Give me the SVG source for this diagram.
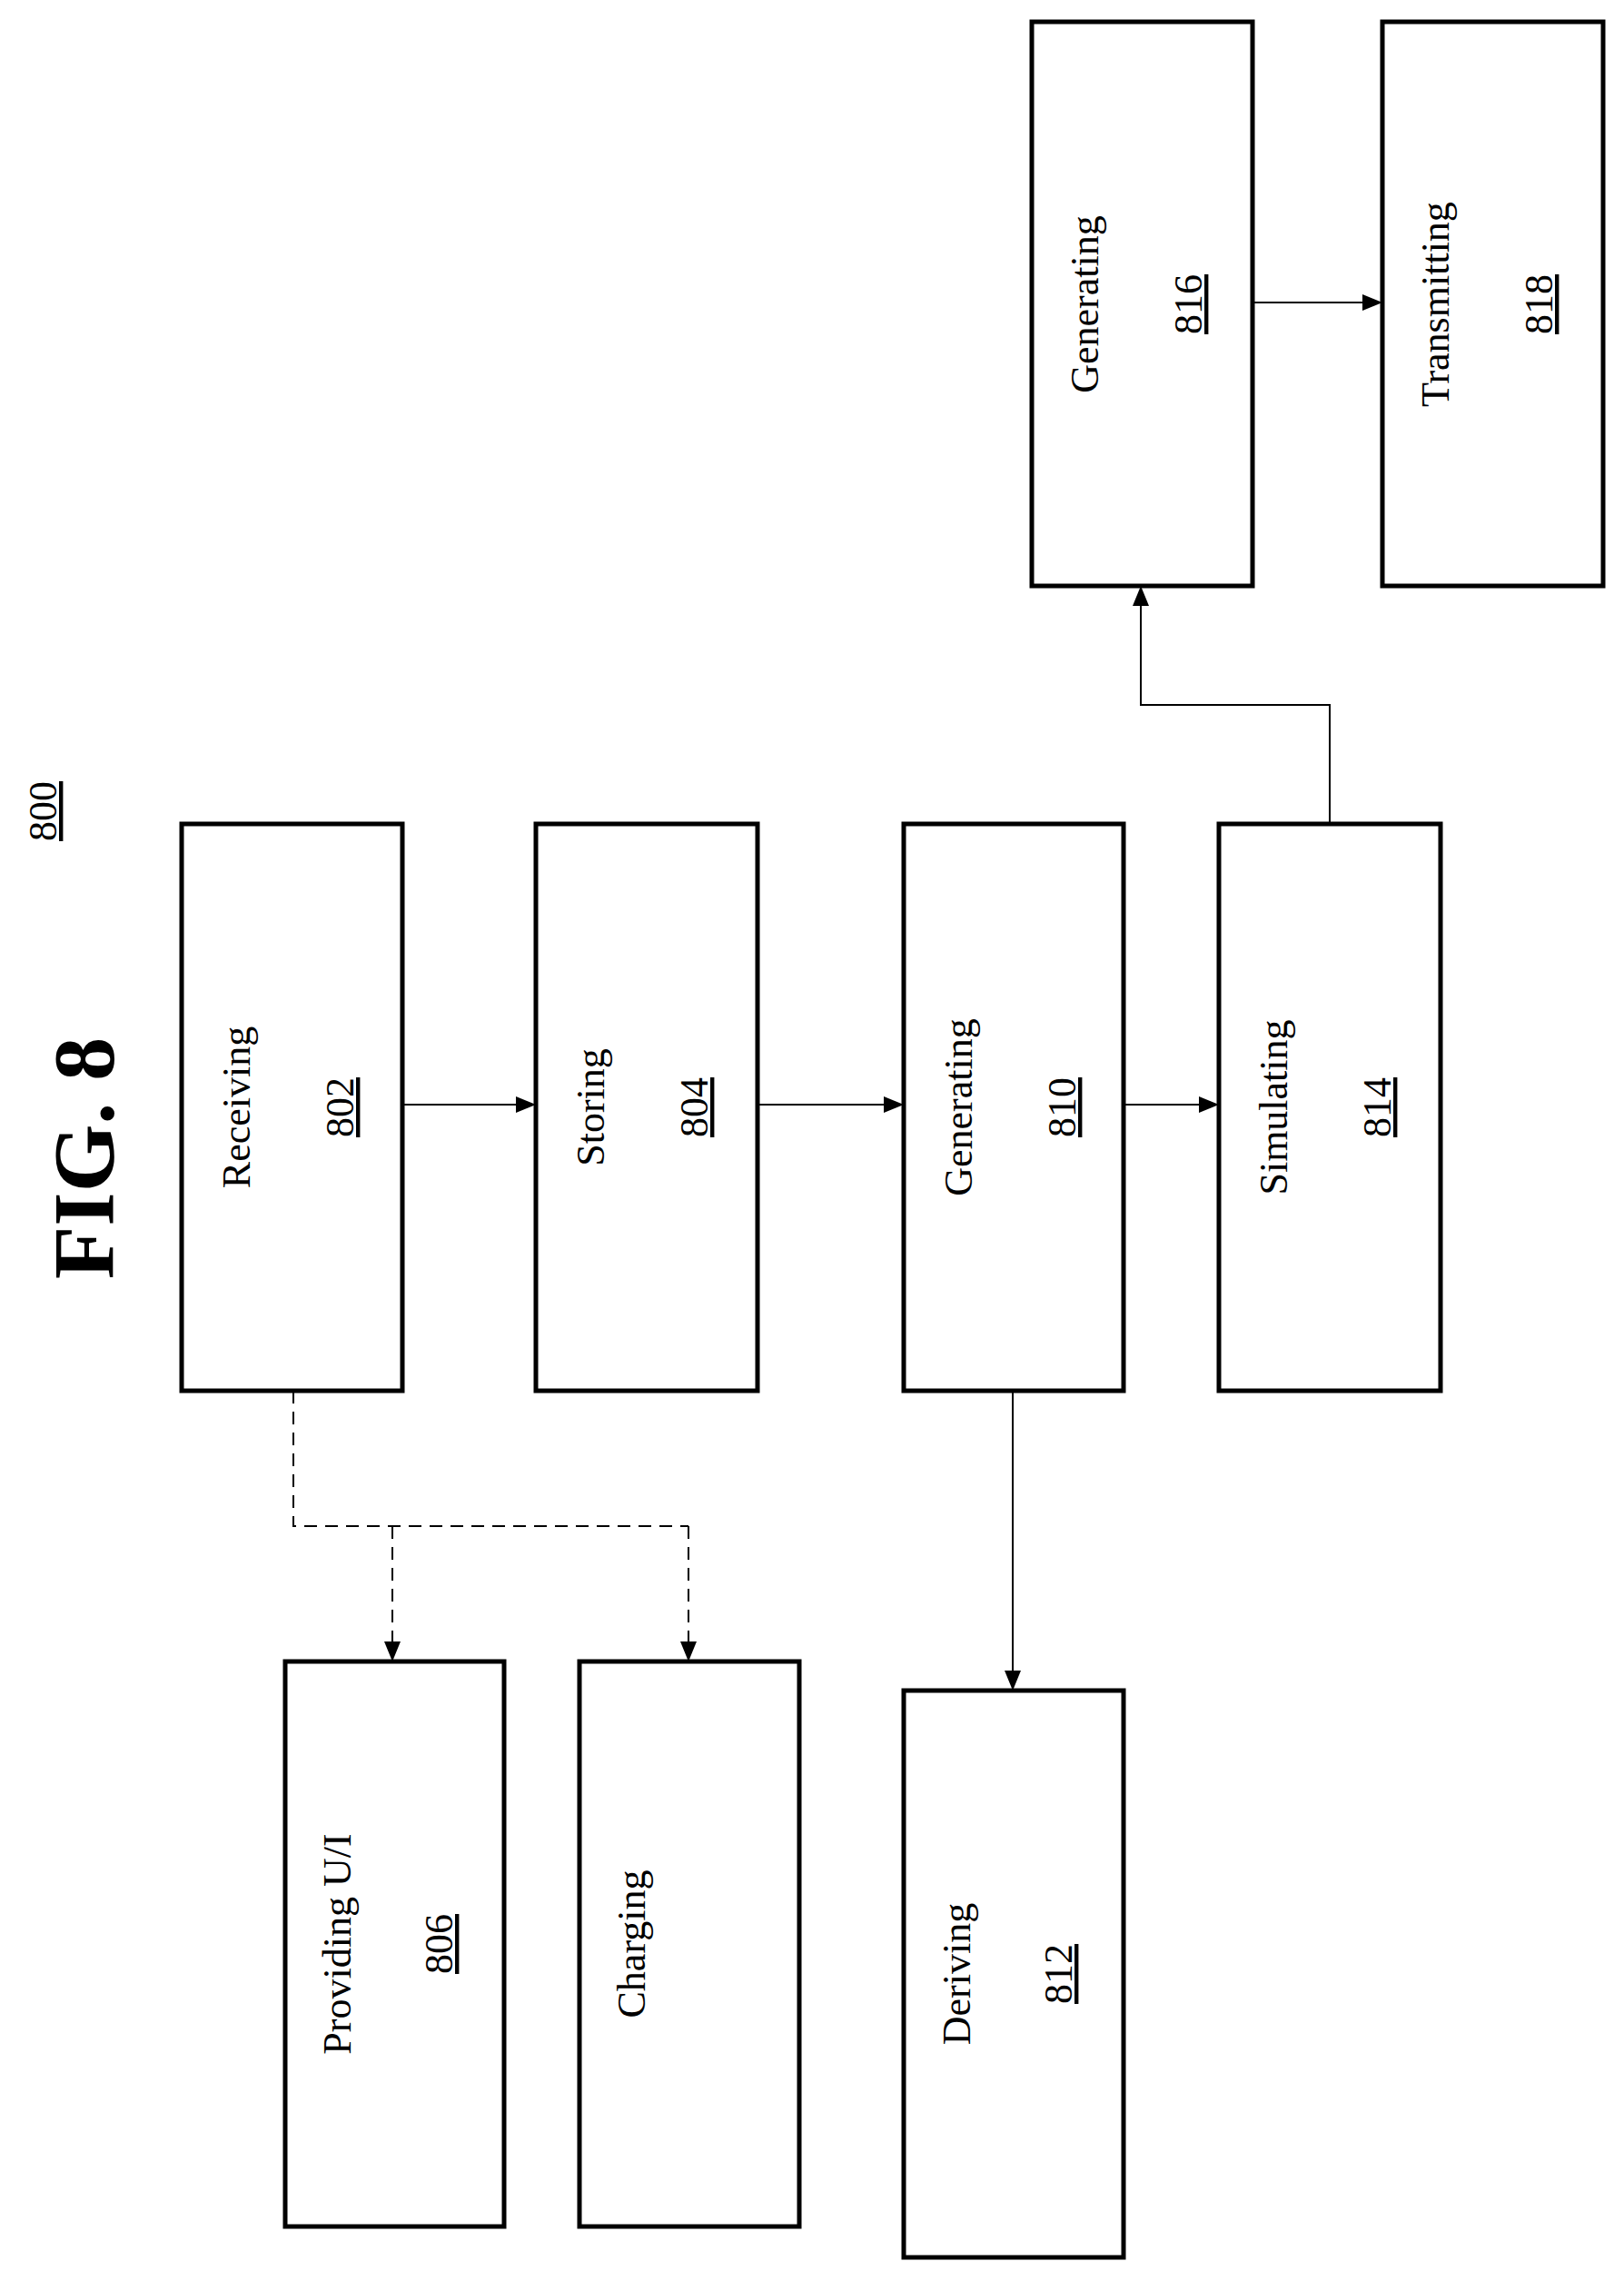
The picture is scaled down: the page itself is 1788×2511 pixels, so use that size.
<svg xmlns="http://www.w3.org/2000/svg" width="1788" height="2511" viewBox="0 0 1788 2511">
<style>
.box{fill:#fff;stroke:#000;stroke-width:5}
.t{font-family:"Liberation Serif",serif;font-size:44px;text-anchor:middle;fill:#000}
.n{text-decoration:underline}
.c{fill:none;stroke:#000;stroke-width:2}
.d{stroke-dasharray:14 9}
</style>
<defs><marker id="a" markerWidth="12" markerHeight="10" refX="12" refY="5" orient="auto" markerUnits="userSpaceOnUse" viewBox="0 0 12 10"><path d="M0 0L12 5L0 10z" fill="#000"/></marker>
<marker id="b" markerWidth="22" markerHeight="18" refX="22" refY="9" orient="auto" markerUnits="userSpaceOnUse"><path d="M0 0L22 9L0 18z" fill="#000"/></marker></defs>
<text x="125" y="1275" transform="rotate(-90 125 1275)" class="t" style="font-size:96px;font-weight:bold">FIG. 8</text>
<text x="62" y="893" transform="rotate(-90 62 893)" class="t n">800</text>
<g id="connectors">
<path class="c" d="M443 1216H590" marker-end="url(#b)"/>
<path class="c" d="M834 1216H995" marker-end="url(#b)"/>
<path class="c" d="M1237 1216H1342" marker-end="url(#b)"/>
<path class="c" d="M1464 907V776H1256V645" marker-end="url(#b)"/>
<path class="c" d="M1379 333H1522" marker-end="url(#b)"/>
<path class="c" d="M1115 1531V1861" marker-end="url(#b)"/>
<path class="c d" d="M323 1531V1680H758"/>
<path class="c d" d="M432 1680V1829" marker-end="url(#b)"/>
<path class="c d" d="M758 1680V1829" marker-end="url(#b)"/>
</g>
<g id="n802"><rect class="box" x="200" y="907" width="243" height="624"/><text class="t" x="275" y="1219" transform="rotate(-90 275 1219)">Receiving</text><text class="t n" x="389" y="1219" transform="rotate(-90 389 1219)">802</text></g>
<g id="n804"><rect class="box" x="590" y="907" width="244" height="624"/><text class="t" x="665" y="1219" transform="rotate(-90 665 1219)">Storing</text><text class="t n" x="779" y="1219" transform="rotate(-90 779 1219)">804</text></g>
<g id="n810"><rect class="box" x="995" y="907" width="242" height="624"/><text class="t" x="1070" y="1219" transform="rotate(-90 1070 1219)">Generating</text><text class="t n" x="1184" y="1219" transform="rotate(-90 1184 1219)">810</text></g>
<g id="n814"><rect class="box" x="1342" y="907" width="244" height="624"/><text class="t" x="1417" y="1219" transform="rotate(-90 1417 1219)">Simulating</text><text class="t n" x="1531" y="1219" transform="rotate(-90 1531 1219)">814</text></g>
<g id="n816"><rect class="box" x="1136" y="24" width="243" height="621"/><text class="t" x="1209" y="335" transform="rotate(-90 1209 335)">Generating</text><text class="t n" x="1323" y="335" transform="rotate(-90 1323 335)">816</text></g>
<g id="n818"><rect class="box" x="1522" y="24" width="243" height="621"/><text class="t" x="1595" y="335" transform="rotate(-90 1595 335)">Transmitting</text><text class="t n" x="1709" y="335" transform="rotate(-90 1709 335)">818</text></g>
<g id="n806"><rect class="box" x="314" y="1829" width="241" height="622"/><text class="t" x="386" y="2140" transform="rotate(-90 386 2140)">Providing U/I</text><text class="t n" x="498" y="2140" transform="rotate(-90 498 2140)">806</text></g>
<g id="nCharging"><rect class="box" x="638" y="1829" width="242" height="622"/><text class="t" x="710" y="2140" transform="rotate(-90 710 2140)">Charging</text></g>
<g id="n812"><rect class="box" x="995" y="1861" width="242" height="624"/><text class="t" x="1068" y="2173" transform="rotate(-90 1068 2173)">Deriving</text><text class="t n" x="1180" y="2173" transform="rotate(-90 1180 2173)">812</text></g>
</svg>
